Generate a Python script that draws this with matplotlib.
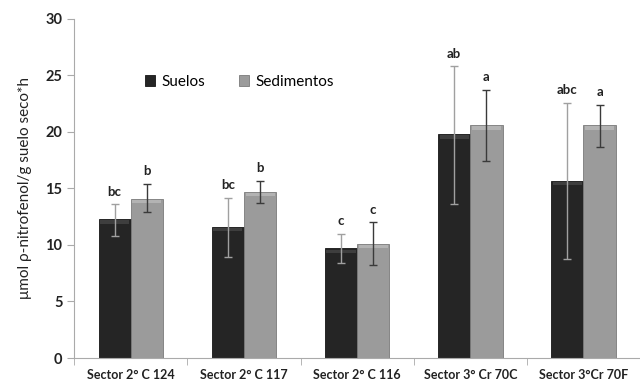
import matplotlib.pyplot as plt
import numpy as np

plt.rcParams['font.family'] = ['Lato', 'DejaVu Sans']

sectors = ['Sector 2° C 124', 'Sector 2° C 117', 'Sector 2° C 116',
           'Sector 3° Cr 70C', 'Sector 3°Cr 70F']
suelos = [12.3, 11.6, 9.7, 19.8, 15.7]
suelos_lo = [10.8, 8.9, 8.4, 13.6, 8.8]
suelos_hi = [13.6, 14.2, 11.0, 25.8, 22.6]
sedim = [14.1, 14.7, 10.1, 20.6, 20.6]
sedim_lo = [12.9, 13.7, 8.2, 17.4, 18.7]
sedim_hi = [15.4, 15.7, 12.0, 23.7, 22.4]
letters_suelos = ['bc', 'bc', 'c', 'ab', 'abc']
letters_sedim = ['b', 'b', 'c', 'a', 'a']

x = np.arange(len(sectors))
w = 0.285

fig = plt.figure(figsize=(6.4, 3.86), dpi=100)
ax = fig.add_axes([0.116, 0.0725, 0.884, 0.8785])

b1 = ax.bar(x - w/2, suelos, w, color='#252525', edgecolor='#151515', linewidth=0.6, label='Suelos')
b2 = ax.bar(x + w/2, sedim, w, color='#9b9b9b', edgecolor='#7a7a7a', linewidth=0.6, label='Sedimentos')

# soft bevel on top of bars
for bars, c in ((b1, '#3e3e3e'), (b2, '#b3b3b3')):
    for b in bars:
        ax.bar(b.get_x() + b.get_width()/2, 0.3, b.get_width()*0.9,
               bottom=b.get_height() - 0.4, color=c, linewidth=0)

s = np.array(suelos); d = np.array(sedim)
ax.errorbar(x - w/2, s, yerr=[s - np.array(suelos_lo), np.array(suelos_hi) - s],
            fmt='none', ecolor='#a0a0a0', elinewidth=1, capsize=3)
ax.errorbar(x + w/2, d, yerr=[d - np.array(sedim_lo), np.array(sedim_hi) - d],
            fmt='none', ecolor='#3a3a3a', elinewidth=1, capsize=3)

for i in range(len(sectors)):
    ax.text(x[i] - w/2, suelos_hi[i] + 0.6, letters_suelos[i], ha='center', va='bottom',
            fontsize=9.5, fontweight='bold', color='#222222')
    ax.text(x[i] + w/2, sedim_hi[i] + 0.6, letters_sedim[i], ha='center', va='bottom',
            fontsize=9.5, fontweight='bold', color='#222222')

ax.set_xlim(-0.5, 4.5)
ax.set_ylim(0, 30)
ax.set_yticks(np.arange(0, 31, 5))
ax.set_xticks(x)
ax.set_xticklabels(sectors, fontsize=9, fontweight='bold', color='#222222')
ax.set_xticks(np.arange(-0.5, 4.6, 1), minor=True)
ax.tick_params(axis='x', which='major', length=0, pad=8)
ax.tick_params(axis='x', which='minor', length=5, color='#aaaaaa')
ax.tick_params(axis='y', length=5, color='#aaaaaa', labelsize=10.5)
for lab in ax.get_yticklabels():
    lab.set_fontweight('bold')
    lab.set_color('#222222')
ax.set_ylabel('μmol ρ-nitrofenol/g suelo seco*h', fontsize=11, color='#222222', labelpad=10)

for sp in ['top', 'right']:
    ax.spines[sp].set_visible(False)
for sp in ['left', 'bottom']:
    ax.spines[sp].set_color('#aaaaaa')

ax.legend(handles=[b1, b2], loc='center left', bbox_to_anchor=(0.1, 0.815), ncol=2,
          frameon=False, fontsize=11, handlelength=0.7, handleheight=0.7,
          columnspacing=2.2, handletextpad=0.4)

fig.savefig('out.png', dpi=100)
